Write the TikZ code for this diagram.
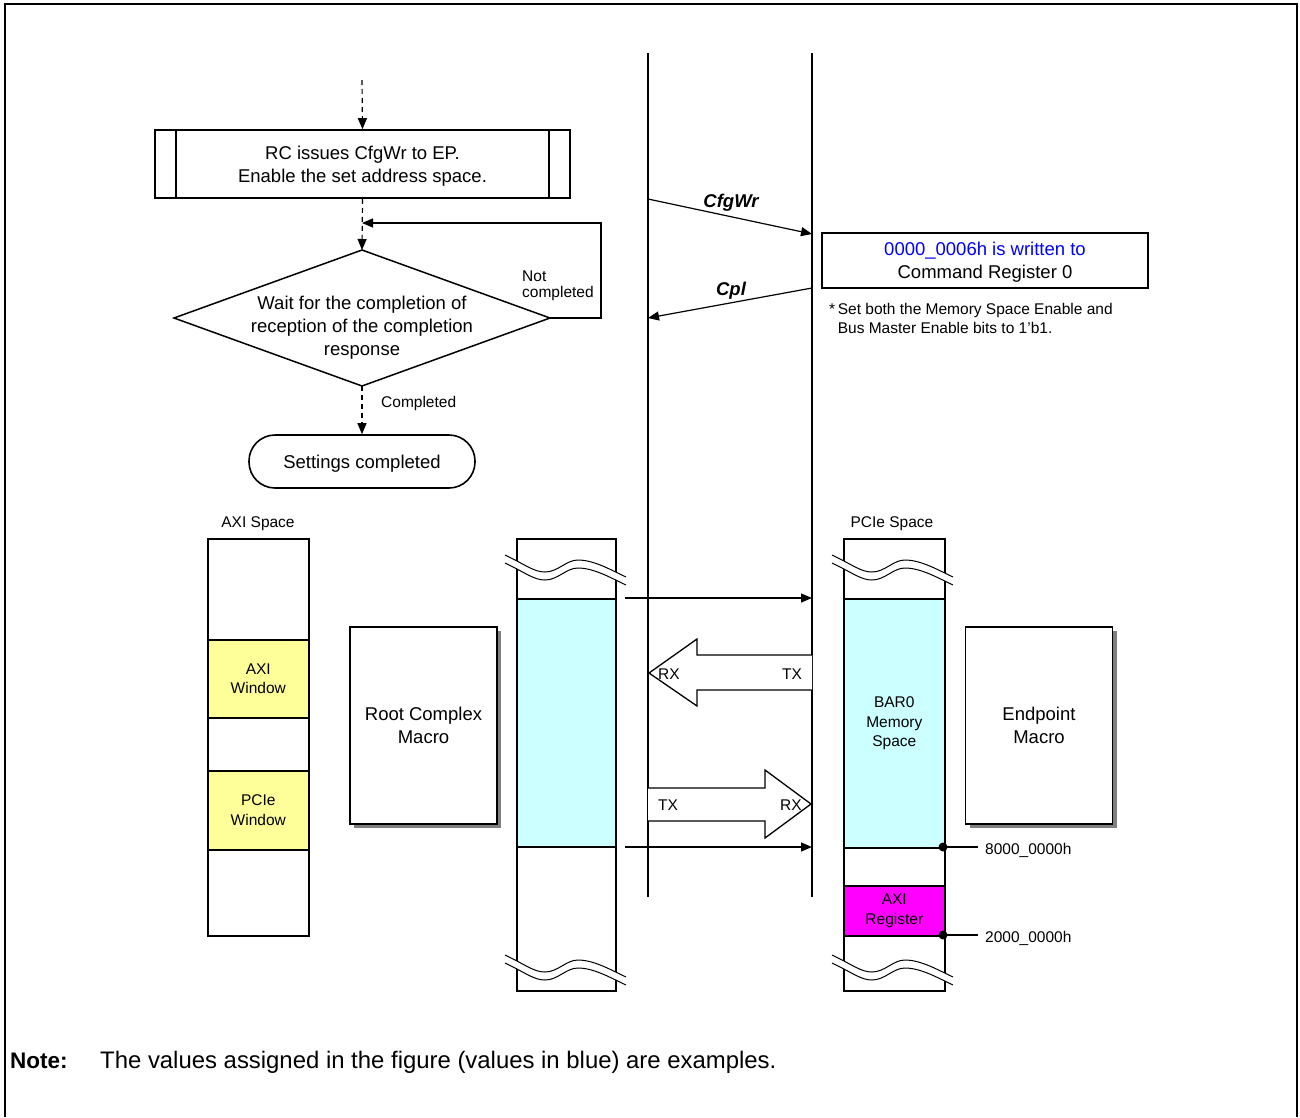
\documentclass[tikz,border=0pt]{standalone}
\usepackage{fontspec}
\setmainfont{Liberation Sans}
\usetikzlibrary{arrows.meta,shadows,calc}
\definecolor{cyanfill}{HTML}{CCFFFF}
\definecolor{yelfill}{HTML}{FFFF99}
\definecolor{magfill}{HTML}{FF00FF}
\definecolor{valblue}{HTML}{0000FF}
\newcommand\FontBig{\fontsize{18.5}{23}\selectfont}
\newcommand\FontSmall{\fontsize{15.5}{19.5}\selectfont}
\newcommand\FontNote{\fontsize{23.9}{28}\selectfont}
\newcommand\FontNoteLab{\fontsize{22.5}{26}\selectfont}
\begin{document}
\begin{tikzpicture}[x=1pt,y=-1pt,
  arr/.style={line width=1.2pt,-{Triangle[length=11pt,width=9pt]}},
  dasharr/.style={arr,dash pattern=on 5pt off 4pt},
  seg/.style={draw,line width=1.6pt,minimum width=101pt,inner sep=0pt,anchor=north west,align=center,font=\FontSmall},
  macrobox/.style={draw,line width=1.8pt,fill=white,minimum width=147pt,minimum height=197pt,align=center,font=\FontBig,
     drop shadow={shadow xshift=4pt,shadow yshift=-4pt,fill=gray,opacity=1}},
  small/.style={font=\FontSmall,inner sep=0pt},
  pics/brk/.style={code={
    \fill[white] (-11,0) .. controls (10,10) and (18,17) .. (29,17) .. controls (42,17) and (50,5) .. (62,5) .. controls (78,5) and (95,15) .. (110,22)
       -- (110,30) .. controls (95,23) and (78,13) .. (62,13) .. controls (50,13) and (42,25) .. (29,25) .. controls (18,25) and (10,18) .. (-11,8) -- cycle;
    \draw[line width=1pt] (-11,0) .. controls (10,10) and (18,17) .. (29,17) .. controls (42,17) and (50,5) .. (62,5) .. controls (78,5) and (95,15) .. (110,22);
    \draw[line width=1pt] (-11,8) .. controls (10,18) and (18,25) .. (29,25) .. controls (42,25) and (50,13) .. (62,13) .. controls (78,13) and (95,23) .. (110,30);
  }}
]
\useasboundingbox (0,0) rectangle (1300,1117);
% frame
\draw[line width=2.5pt] (5,1117) -- (5,4) -- (1297,4) -- (1297,1117);

% ---------- flowchart ----------
\coordinate (start) at (362,80);
\node[draw,line width=1.6pt,minimum width=415pt,minimum height=68pt,align=center,font=\FontBig,text depth=0pt] (proc) at (362.5,164)
  {RC issues CfgWr to EP.\\Enable the set address space.};
\draw[line width=1.6pt] ($(proc.north west)+(22,0)$) -- ($(proc.south west)+(22,0)$);
\draw[line width=1.6pt] ($(proc.north east)+(-22,0)$) -- ($(proc.south east)+(-22,0)$);
\draw[dasharr] (start) -- (proc.north);

\coordinate (dtop) at (362,250);
\coordinate (dright) at (550,318);
\coordinate (dbot) at (362,386);
\coordinate (dleft) at (174,318);
\draw[line width=1.5pt] (dtop) -- (dright) -- (dbot) -- (dleft) -- cycle;
\node[font=\FontBig,align=center,inner sep=0pt] (dtext) at (362,328) {Wait for the completion of\\reception of the completion\\response};
\draw[dasharr] (proc.south) -- (dtop);
\coordinate (loopend) at (362,223);
\draw[arr] (dright) -- (601,318) -- (601,223) -- (loopend);
\node[font=\fontsize{15.5}{16}\selectfont,inner sep=0pt,anchor=west,align=left] (notc) at (522,286) {Not\\completed};

\node[draw,line width=1.6pt,rounded corners=26pt,minimum width=226pt,minimum height=53pt,font=\FontBig,text depth=0pt] (done) at (362,461.5) {Settings completed};
\draw[dasharr] (dbot) -- (done.north);
\node[small,anchor=west] (compl) at (381,403) {Completed};

% ---------- lifelines ----------
\coordinate (Ltop) at (648,53);
\coordinate (Lbot) at (648,897);
\coordinate (Rtop) at (812,53);
\coordinate (Rbot) at (812,897);
\draw[line width=1.6pt] (Ltop) -- (Lbot);
\draw[line width=1.6pt] (Rtop) -- (Rbot);

\coordinate (cw1) at (648,199);
\coordinate (cw2) at (812,234);
\draw[arr] (cw1) -- (cw2);
\node[font=\FontBig\bfseries\itshape,inner sep=0pt] (cfglab) at (731,203) {CfgWr};

\node[draw,line width=1.6pt,minimum width=326pt,minimum height=55pt,align=center,font=\FontBig,inner sep=0pt,text depth=0pt] (reg) at (985,260.5)
  {\textcolor{valblue}{0000\_0006h is written to}\\Command Register 0};
\coordinate (cp1) at (812,288);
\coordinate (cp2) at (648,318);
\draw[arr] (cp1) -- (cp2);
\node[font=\FontBig\bfseries\itshape,inner sep=0pt] (cpllab) at (731,291) {Cpl};
\node[small,anchor=north west,align=left] (star) at (829,303)
  {*\,Set both the Memory Space Enable and\\\hphantom{*\,}Bus Master Enable bits to 1’b1.};

% ---------- AXI space ----------
\node[small] (axilab) at (258,524) {AXI Space};
\node[seg,minimum height=101pt] (a1) at (207,538) {};
\node[seg,minimum height=78pt,fill=yelfill] (a2) at (207,639) {AXI\\Window};
\node[seg,minimum height=53pt] (a3) at (207,717) {};
\node[seg,minimum height=79pt,fill=yelfill] (a4) at (207,770) {PCIe\\Window};
\node[seg,minimum height=86pt] (a5) at (207,849) {};

\node[macrobox] (rc) at (423.5,725.5) {Root Complex\\Macro};

% ---------- middle column ----------
\node[seg,minimum width=99pt,minimum height=60pt] (m1) at (516,538) {};
\node[seg,minimum width=99pt,minimum height=248pt,fill=cyanfill] (m2) at (516,598) {};
\node[seg,minimum width=99pt,minimum height=144pt] (m3) at (516,846) {};
\pic at (516,555) {brk};
\pic at (516,955) {brk};

\coordinate (t1) at (625,598);
\coordinate (t1e) at (812,598);
\draw[arr] (t1) -- (t1e);
\coordinate (t2) at (625,847);
\coordinate (t2e) at (812,847);
\draw[arr] (t2) -- (t2e);

% block arrows
\draw[line width=1.3pt,fill=white] (812,655) -- (697,655) -- (697,639) -- (649,673) -- (697,706) -- (697,690) -- (812,690);
\node[small] (rxl) at (669,674) {RX};
\node[small] (txl) at (792,674) {TX};
\draw[line width=1.3pt,fill=white] (648,788) -- (765,788) -- (765,770) -- (811,804) -- (765,838) -- (765,821) -- (648,821);
\node[small] (txr) at (668,805) {TX};
\node[small] (rxr) at (791,805) {RX};

% ---------- PCIe space ----------
\node[small] (pcilab) at (892,524) {PCIe Space};
\node[seg,minimum height=60pt] (p1) at (843,538) {};
\node[seg,minimum height=249pt,fill=cyanfill] (p2) at (843,598) {BAR0\\Memory\\Space};
\node[seg,minimum height=38pt] (p3) at (843,847) {};
\node[seg,minimum height=50pt,fill=magfill] (p4) at (843,885) {AXI\\Register};
\node[seg,minimum height=55pt] (p5) at (843,935) {};
\pic at (843,555) {brk};
\pic at (843,955) {brk};

\coordinate (d1) at (943,847);
\coordinate (d2) at (943,935);
\coordinate (d1e) at (978,847);
\coordinate (d2e) at (978,935);
\fill (d1) circle (4.5pt);
\fill (d2) circle (4.5pt);
\draw[line width=1.4pt] (d1) -- (d1e);
\draw[line width=1.4pt] (d2) -- (d2e);
\node[small,anchor=west] (addr1) at (985,850) {8000\_0000h};
\node[small,anchor=west] (addr2) at (985,938) {2000\_0000h};

\node[macrobox] (ep) at (1039,725.5) {Endpoint\\Macro};

% ---------- note ----------
\node[font=\FontNoteLab\bfseries,anchor=base west,inner sep=0pt] (notelab) at (10,1068) {Note:};
\node[font=\FontNote,anchor=base west,inner sep=0pt] (notetxt) at (100,1068) {The values assigned in the figure (values in blue) are examples.};
\end{tikzpicture}
\end{document}
